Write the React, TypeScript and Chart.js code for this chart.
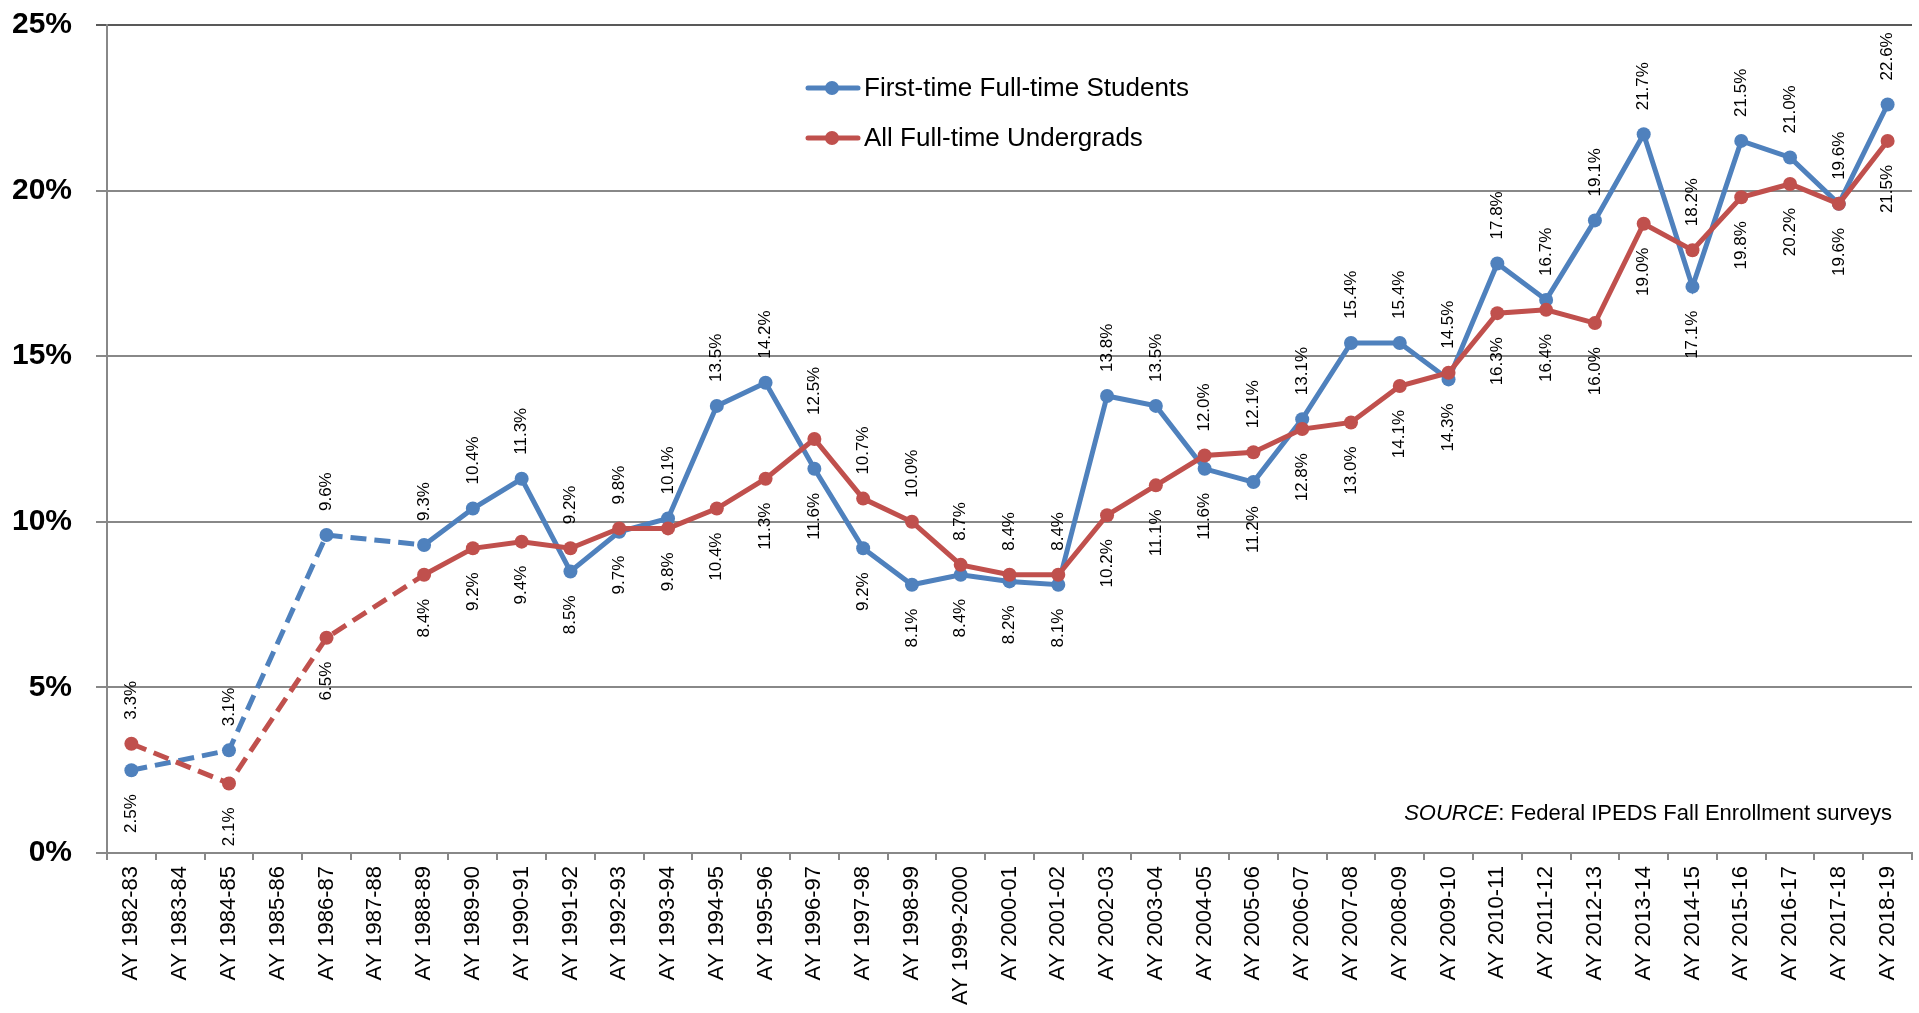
import React, { useEffect, useRef } from "react";
import { Chart, registerables } from "chart.js";

Chart.register(...registerables);

const categories = [
  "AY 1982-83", "AY 1983-84", "AY 1984-85", "AY 1985-86", "AY 1986-87", "AY 1987-88",
  "AY 1988-89", "AY 1989-90", "AY 1990-91", "AY 1991-92", "AY 1992-93", "AY 1993-94",
  "AY 1994-95", "AY 1995-96", "AY 1996-97", "AY 1997-98", "AY 1998-99", "AY 1999-2000",
  "AY 2000-01", "AY 2001-02", "AY 2002-03", "AY 2003-04", "AY 2004-05", "AY 2005-06",
  "AY 2006-07", "AY 2007-08", "AY 2008-09", "AY 2009-10", "AY 2010-11", "AY 2011-12",
  "AY 2012-13", "AY 2013-14", "AY 2014-15", "AY 2015-16", "AY 2016-17", "AY 2017-18",
  "AY 2018-19",
];

const firstTimeFullTime: (number | null)[] = [
  2.5, null, 3.1, null, 9.6, null, 9.3, 10.4, 11.3, 8.5, 9.7, 10.1, 13.5, 14.2, 11.6, 9.2,
  8.1, 8.4, 8.2, 8.1, 13.8, 13.5, 11.6, 11.2, 13.1, 15.4, 15.4, 14.3, 17.8, 16.7, 19.1,
  21.7, 17.1, 21.5, 21.0, 19.6, 22.6,
];

const allFullTimeUndergrads: (number | null)[] = [
  3.3, null, 2.1, null, 6.5, null, 8.4, 9.2, 9.4, 9.2, 9.8, 9.8, 10.4, 11.3, 12.5, 10.7,
  10.0, 8.7, 8.4, 8.4, 10.2, 11.1, 12.0, 12.1, 12.8, 13.0, 14.1, 14.5, 16.3, 16.4, 16.0,
  19.0, 18.2, 19.8, 20.2, 19.6, 21.5,
];

const seriesNames = ["First-time Full-time Students", "All Full-time Undergrads"];
const yTicks = [0, 5, 10, 15, 20, 25];
const sourceItalic = "SOURCE";
const sourceRest = ": Federal IPEDS Fall Enrollment surveys";

const BLUE = "#4F81BD";
const RED = "#C0504D";
const FONT = "'Liberation Sans', Arial, sans-serif";

export default function App() {
  const canvasRef = useRef<HTMLCanvasElement | null>(null);

  useEffect(() => {
    document.body.style.margin = "0";
    const canvas = canvasRef.current;
    if (!canvas) return;

    const dash = (ctx: any) => (ctx.p0.skip || ctx.p1.skip ? [16, 8] : undefined);

    const overlay = {
      id: "overlay",
      afterDatasetsDraw(chart: any) {
        const c = chart.ctx;
        const m0 = chart.getDatasetMeta(0);
        const m1 = chart.getDatasetMeta(1);
        c.save();
        c.fillStyle = "#000";
        c.font = `17px ${FONT}`;
        c.textBaseline = "middle";
        const drawLabel = (x: number, y: number, v: number, above: boolean) => {
          c.save();
          c.translate(x, y);
          c.rotate(-Math.PI / 2);
          const txt = v.toFixed(1) + "%";
          if (above) {
            c.textAlign = "left";
            c.fillText(txt, 24, 0);
          } else {
            c.textAlign = "right";
            c.fillText(txt, -24, 0);
          }
          c.restore();
        };
        for (let i = 0; i < categories.length; i++) {
          const a = firstTimeFullTime[i];
          const b = allFullTimeUndergrads[i];
          if (a != null) {
            const p = m0.data[i];
            const above = b == null || a >= b;
            drawLabel(p.x, p.y, a, above);
          }
          if (b != null) {
            const p = m1.data[i];
            const above = a == null || b > a;
            drawLabel(p.x, p.y, b, above);
          }
        }
        // legend
        const rows = [
          { name: seriesNames[0], color: BLUE, y: 88 },
          { name: seriesNames[1], color: RED, y: 138 },
        ];
        for (const r of rows) {
          c.strokeStyle = r.color;
          c.lineWidth = 5;
          c.lineCap = "round";
          c.beginPath();
          c.moveTo(808, r.y);
          c.lineTo(858, r.y);
          c.stroke();
          c.fillStyle = r.color;
          c.beginPath();
          c.arc(832, r.y, 7, 0, Math.PI * 2);
          c.fill();
          c.fillStyle = "#000";
          c.font = `26px ${FONT}`;
          c.textAlign = "left";
          c.textBaseline = "middle";
          c.fillText(r.name, 864, r.y + 1);
        }
        // source
        c.textBaseline = "alphabetic";
        c.textAlign = "left";
        c.font = `22px ${FONT}`;
        const wRest = c.measureText(sourceRest).width;
        c.font = `italic 22px ${FONT}`;
        const wIt = c.measureText(sourceItalic).width;
        const right = 1892;
        const x0 = right - wRest - wIt;
        c.fillText(sourceItalic, x0, 820);
        c.font = `22px ${FONT}`;
        c.fillText(sourceRest, x0 + wIt, 820);
        c.restore();
      },
    };

    const chart = new Chart(canvas, {
      type: "line",
      data: {
        labels: categories,
        datasets: [
          {
            label: seriesNames[0],
            data: firstTimeFullTime,
            borderColor: BLUE,
            backgroundColor: BLUE,
            borderWidth: 5,
            pointRadius: 7,
            pointBorderWidth: 0,
            pointBackgroundColor: BLUE,
            spanGaps: true,
            tension: 0,
            order: 1,
            segment: { borderDash: dash },
          },
          {
            label: seriesNames[1],
            data: allFullTimeUndergrads,
            borderColor: RED,
            backgroundColor: RED,
            borderWidth: 5,
            pointRadius: 7,
            pointBorderWidth: 0,
            pointBackgroundColor: RED,
            spanGaps: true,
            tension: 0,
            order: 0,
            segment: { borderDash: dash },
          },
        ],
      },
      options: {
        responsive: true,
        maintainAspectRatio: false,
        animation: false,
        layout: { padding: { top: 25, right: 2, left: 0, bottom: 0 } },
        plugins: {
          legend: { display: false },
          tooltip: { enabled: false },
          title: { display: false },
        },
        scales: {
          x: {
            type: "category",
            offset: true,
            grid: {
              display: true,
              drawOnChartArea: false,
              drawTicks: true,
              tickLength: 7,
              offset: true,
              color: "#888888",
              lineWidth: 2,
            },
            border: { display: true, color: "#888888", width: 2 },
            ticks: {
              autoSkip: false,
              maxRotation: 90,
              minRotation: 90,
              padding: 6,
              color: "#000",
              font: { family: FONT, size: 22 },
            },
            afterFit: (scale: any) => {
              scale.height = 160;
              scale.paddingLeft = 0;
              scale.paddingRight = 0;
            },
          },
          y: {
            min: 0,
            max: 25,
            afterBuildTicks: (scale: any) => {
              scale.ticks = yTicks.map((v) => ({ value: v }));
            },
            grid: {
              color: (ctx: any) => (ctx.tick && ctx.tick.value === 25 ? "#595959" : "#888888"),
              lineWidth: 2,
              drawTicks: true,
              tickLength: 11,
            },
            border: { display: true, color: "#888888", width: 2 },
            ticks: {
              padding: 24,
              color: "#000",
              font: { family: FONT, size: 30, weight: "bold" },
              callback: (v: any) => v + "%",
            },
            afterFit: (scale: any) => {
              scale.width = 107;
              scale.paddingTop = 0;
              scale.paddingBottom = 0;
            },
          },
        },
      },
      plugins: [overlay],
    });

    return () => chart.destroy();
  }, []);

  return (
    <div style={{ width: "1919px", height: "1013px", position: "relative", background: "#fff" }}>
      <canvas ref={canvasRef} />
    </div>
  );
}
